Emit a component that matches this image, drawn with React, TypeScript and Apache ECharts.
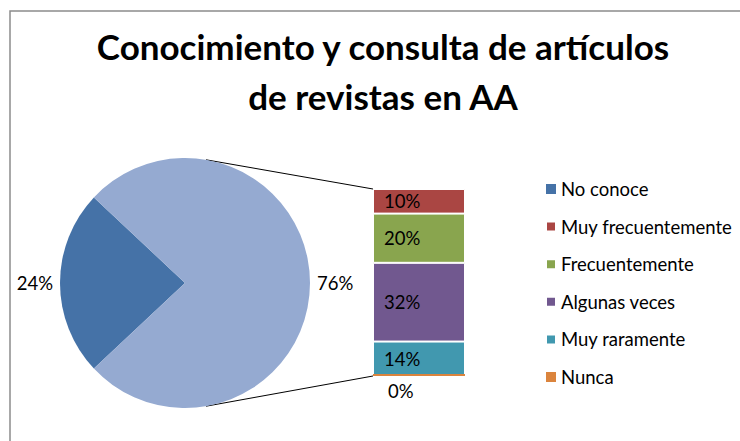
import React, { useEffect, useRef } from "react";
import * as echarts from "echarts";

const titleText = "Conocimiento y consulta de artículos\nde revistas en AA";
const pieNames = ["No conoce", "Conoce"];
const pieValues = [24, 76];
const barNames = ["Muy frecuentemente", "Frecuentemente", "Algunas veces", "Muy raramente", "Nunca"];
const barValues = [10, 20, 32, 14, 0];
const legendNames = ["No conoce", "Muy frecuentemente", "Frecuentemente", "Algunas veces", "Muy raramente", "Nunca"];

const pieColors = ["#4572A7", "#95AAD1"];
const barColors = ["#AA4643", "#89A54E", "#71588F", "#4198AF", "#DB843D"];

const FONT = "Lato";

export default function App() {
  const ref = useRef<HTMLDivElement>(null);
  useEffect(() => {
    if (!ref.current) return;
    const chart = echarts.init(ref.current, undefined, { renderer: "svg" });
    const cx = 185, cy = 283, r = 125;
    const gLeft = 373, gTop = 189, gW = 92, gH = 187;
    const total = barValues.reduce((a, b) => a + b, 0);
    const th = (9.7 * Math.PI) / 180;
    const px = cx + r * Math.sin(th);
    const pyTop = cy - r * Math.cos(th);
    const pyBot = cy + r * Math.cos(th);

    const barSeries = barNames.map((n, i) => ({
      type: "bar",
      name: n,
      stack: "s",
      barWidth: "100%",
      barMinHeight: i === barNames.length - 1 ? 2 : 0,
      data: [barValues[i]],
      itemStyle: {
        color: barColors[i],
        borderColor: i === barNames.length - 1 ? barColors[i] : "#ffffff",
        borderWidth: i === barNames.length - 1 ? 0 : 1,
      },
      label: {
        show: true,
        formatter: "{c}%",
        color: "#000",
        fontFamily: FONT,
        fontSize: 18.5,
        position: i === barNames.length - 1 ? [15, 7] : [11, "50%"],
        verticalAlign: i === barNames.length - 1 ? "top" : "middle",
        align: "left",
      },
    }));

    chart.setOption({
      animation: false,
      title: {
        text: titleText,
        left: 378,
        top: 16,
        textAlign: "center",
        textStyle: { fontFamily: FONT, fontWeight: "bold", fontSize: 35, lineHeight: 50, color: "#000" },
      },
      legend: {
        data: legendNames,
        orient: "vertical",
        left: 540,
        top: 174,
        itemWidth: 10,
        itemHeight: 10,
        itemGap: 17.6,
        icon: "rect",
        textStyle: { fontFamily: FONT, fontSize: 18.5, color: "#000", lineHeight: 20, padding: [0, 0, 0, 0] },
      },
      grid: { left: gLeft, top: gTop, width: gW, height: gH },
      xAxis: { type: "category", data: [""], show: false },
      yAxis: { type: "value", min: 0, max: total, inverse: true, show: false },
      series: [
        {
          type: "pie",
          center: [cx, cy],
          radius: r,
          startAngle: 180 + (pieValues[0] / 100) * 180,
          clockwise: true,
          data: pieNames.map((n, i) => ({ name: n, value: pieValues[i], itemStyle: { color: pieColors[i] } })),
          label: {
            show: true,
            position: "outside",
            formatter: "{d}%",
            color: "#000",
            fontFamily: FONT,
            fontSize: 18.5,
          },
          labelLine: { show: false, length: 2, length2: 0 },
        },
        ...barSeries,
      ],
      graphic: [
        {
          type: "rect",
          shape: { x: 10, y: 11, width: 800, height: 600 },
          style: { fill: "none", stroke: "#8c8c8c", lineWidth: 1.5 },
          silent: true,
        },
        {
          type: "line",
          shape: { x1: px, y1: pyTop, x2: gLeft, y2: gTop },
          style: { stroke: "#000", lineWidth: 1 },
        },
        {
          type: "line",
          shape: { x1: px, y1: pyBot, x2: gLeft, y2: gTop + gH },
          style: { stroke: "#000", lineWidth: 1 },
        },
      ],
    });
    return () => chart.dispose();
  }, []);
  return <div ref={ref} style={{ position: "fixed", left: 0, top: 0, width: 740, height: 441, background: "#fff" }} />;
}
